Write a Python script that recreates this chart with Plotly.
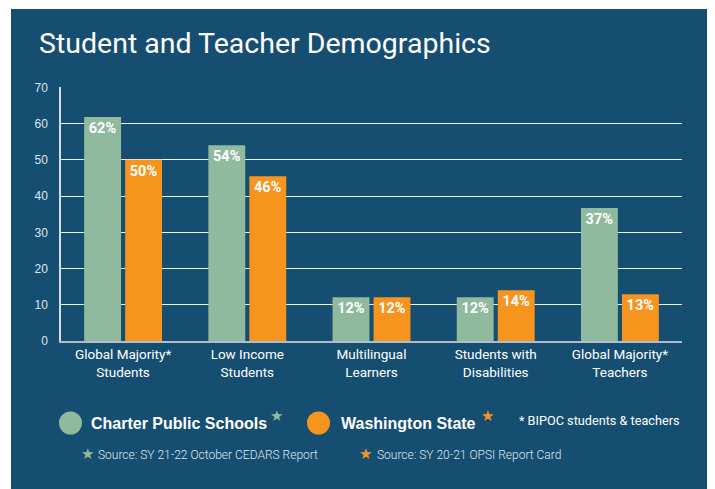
import plotly.graph_objects as go

categories = ["Global Majority*<br>Students", "Low Income<br>Students", "Multilingual<br>Learners",
              "Students with<br>Disabilities", "Global Majority*<br>Teachers"]
charter_values = [61.8, 54.0, 12.1, 12.1, 36.7]
state_values = [50.0, 45.5, 12.1, 14.0, 12.9]
charter_labels = ["62%", "54%", "12%", "12%", "37%"]
state_labels = ["50%", "46%", "12%", "14%", "13%"]
y_ticks = [0, 10, 20, 30, 40, 50, 60, 70]

BG = "#164e71"
GREEN = "#8fba9e"
ORANGE = "#f7941e"
NARROW = "Roboto, Liberation Sans, Arial, sans-serif"
REG = "Liberation Sans, Arial, Helvetica, sans-serif"

OFF = 8  # page body margin
W, H = 715 - OFF, 489 - OFF
# plot area in page pixels
L, R, T, B = 61, 682, 87, 341


def px(x):
    return (x - L) / (R - L)


def py(y):
    return (B - y) / (B - T)


fig = go.Figure()
fig.add_trace(go.Bar(x=categories, y=charter_values, name="Charter Public Schools",
                     marker=dict(color=GREEN, line=dict(width=0)),
                     text=charter_labels, textposition="inside", insidetextanchor="end",
                     textangle=0, constraintext="none",
                     insidetextfont=dict(family=NARROW, size=14.5, color="white", weight="bold")))
fig.add_trace(go.Bar(x=categories, y=state_values, name="Washington State",
                     marker=dict(color=ORANGE, line=dict(width=0)),
                     text=state_labels, textposition="inside", insidetextanchor="end",
                     textangle=0, constraintext="none",
                     insidetextfont=dict(family=NARROW, size=14.5, color="white", weight="bold")))

shapes = [
    dict(type="rect", xref="paper", yref="paper", x0=px(11), x1=px(711), y0=py(9), y1=py(500),
         fillcolor=BG, line=dict(width=0), layer="below"),
    dict(type="circle", xref="paper", yref="paper", xsizemode="pixel", ysizemode="pixel",
         xanchor=px(70.5), yanchor=py(423), x0=-11.5, x1=11.5, y0=-11.5, y1=11.5,
         fillcolor=GREEN, line=dict(width=0)),
    dict(type="circle", xref="paper", yref="paper", xsizemode="pixel", ysizemode="pixel",
         xanchor=px(318.5), yanchor=py(423), x0=-11.5, x1=11.5, y0=-11.5, y1=11.5,
         fillcolor=ORANGE, line=dict(width=0)),
]

annotations = [
    dict(text="Student and Teacher Demographics", x=px(37), y=py(43), xanchor="left", yanchor="middle",
         font=dict(family=NARROW, size=28.5, color="white")),
    dict(text="<b>Charter Public Schools</b>", x=px(89), y=py(424), xanchor="left", yanchor="middle",
         font=dict(family=REG, size=16, color="white")),
    dict(text="★", x=px(276), y=py(416), xanchor="center", yanchor="middle",
         font=dict(family="DejaVu Sans", size=15, color=GREEN)),
    dict(text="<b>Washington State</b>", x=px(339), y=py(424), xanchor="left", yanchor="middle",
         font=dict(family=REG, size=16, color="white")),
    dict(text="★", x=px(487), y=py(416), xanchor="center", yanchor="middle",
         font=dict(family="DejaVu Sans", size=15, color=ORANGE)),
    dict(text="* BIPOC students &amp; teachers", x=px(517), y=py(420), xanchor="left", yanchor="middle",
         font=dict(family=NARROW, size=12.7, color="white")),
    dict(text="★", x=px(87), y=py(454), xanchor="center", yanchor="middle",
         font=dict(family="DejaVu Sans", size=15, color=GREEN)),
    dict(text="Source: SY 21-22 October CEDARS Report", x=px(96), y=py(455), xanchor="left", yanchor="middle",
         font=dict(family=NARROW, size=12, color="#dfe6ec", weight=300)),
    dict(text="★", x=px(365), y=py(454), xanchor="center", yanchor="middle",
         font=dict(family="DejaVu Sans", size=15, color=ORANGE)),
    dict(text="Source: SY 20-21 OPSI Report Card", x=px(375), y=py(455), xanchor="left", yanchor="middle",
         font=dict(family=NARROW, size=12, color="#dfe6ec", weight=300)),
]
for a in annotations:
    a.update(xref="paper", yref="paper", showarrow=False)

fig.update_layout(
    width=W, height=H,
    margin=dict(l=L - OFF, r=W - (R - OFF), t=T - OFF, b=H - (B - OFF), pad=0),
    paper_bgcolor="white", plot_bgcolor="rgba(0,0,0,0)",
    barmode="group", bargap=0.34, bargroupgap=0.1,
    showlegend=False,
    shapes=shapes, annotations=annotations,
    xaxis=dict(showgrid=False, showline=True, linecolor="#aebccb", linewidth=2,
               tickfont=dict(family=NARROW, size=13.5, color="white"),
               ticks="", ticklabelstandoff=0, fixedrange=True),
    yaxis=dict(range=[0, 70.1], tickvals=y_ticks, showgrid=True, gridcolor="#eef2f5", gridwidth=1.2,
               zeroline=False, showline=True, linecolor="#d5dde4", linewidth=1.5,
               tickfont=dict(family=REG, size=12, color="#dfe5ea"),
               ticks="", ticklabelstandoff=9, fixedrange=True),
)

fig.write_html("out.html")
